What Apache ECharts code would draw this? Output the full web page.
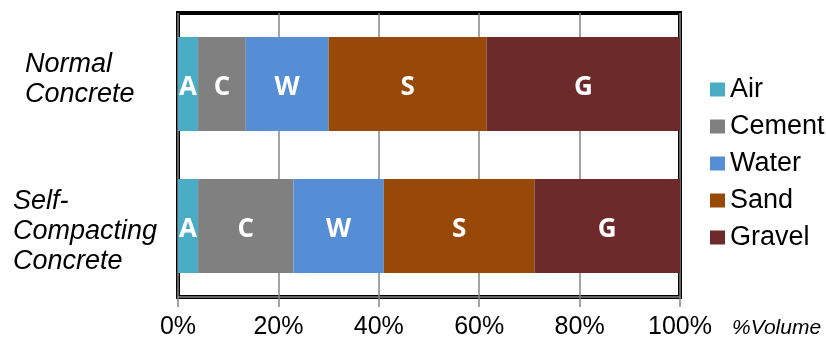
<!DOCTYPE html>
<html>
<head>
<meta charset="utf-8">
<script src="https://cdn.jsdelivr.net/npm/echarts@6/dist/echarts.min.js"></script>
<style>
    html, body {margin: 0; padding: 0; background: #fff;}
    #chart {width: 826px; height: 340px;}
</style>
</head>
<body>
<div id="chart"></div>
<script>
let categories = ['Normal\nConcrete', 'Self-\nCompacting\nConcrete']
let components = ['Air', 'Cement', 'Water', 'Sand', 'Gravel']
let letters = ['A', 'C', 'W', 'S', 'G']
let colors = ['#4bacc6', '#808080', '#558ed5', '#984807', '#6c2a2b']
// % by volume, [normal, self-compacting]
let air = [4, 4]
let cement = [9.5, 19]
let water = [16.5, 18]
let sand = [31.5, 30]
let gravel = [38.5, 29]
let xTicks = [0, 20, 40, 60, 80, 100]

let values = [air, cement, water, sand, gravel]
let series = []
for (let i = 0; i < components.length; i++) {
    series.push({
        name: components[i],
        type: 'bar',
        stack: 'total',
        barWidth: 94,
        data: values[i],
        itemStyle: {color: colors[i]},
        label: {
            show: true,
            position: 'inside',
            formatter: letters[i],
            color: '#fff',
            fontFamily: 'Open Sans',
            fontWeight: 'bold',
            fontSize: 26,
            offset: [0, 4]
        }
    })
}

let chart = echarts.init(document.getElementById('chart'))
let option = {
    animation: false,
    textStyle: {fontFamily: 'Liberation Sans'},
    grid: {
        left: 178,
        right: 146,
        top: 13,
        bottom: 39,
        show: true,
        borderColor: '#000',
        borderWidth: 4
    },
    legend: {
        orient: 'vertical',
        left: 705,
        top: 71,
        icon: 'rect',
        itemWidth: 15,
        itemHeight: 14,
        itemGap: 10,
        data: components,
        textStyle: {fontSize: 27, color: '#000', fontFamily: 'Liberation Sans'}
    },
    xAxis: {
        type: 'value',
        min: xTicks[0],
        max: xTicks[xTicks.length - 1],
        interval: 20,
        name: '%Volume',
        nameLocation: 'end',
        nameGap: 52,
        nameTextStyle: {
            fontSize: 21,
            fontStyle: 'italic',
            color: '#000',
            verticalAlign: 'top',
            padding: [21, 0, 0, 0]
        },
        axisLine: {show: true, lineStyle: {color: '#868686', width: 1.5}},
        axisTick: {show: true, length: 10, lineStyle: {color: '#868686', width: 1.5}},
        splitLine: {show: true, lineStyle: {color: '#868686', width: 1.5}},
        axisLabel: {
            fontSize: 25,
            color: '#000',
            margin: 18,
            formatter: function (v) {
                return v + '%'
            }
        }
    },
    yAxis: {
        type: 'category',
        inverse: true,
        data: categories,
        axisLine: {show: false},
        axisTick: {show: false},
        axisLabel: {
            align: 'left',
            margin: 165,
            formatter: function (v, i) {
                let tag = i === 0 ? 'n' : 's'
                let txt = v.split('\n').map(function (l) {
                    return '{' + tag + '|' + l + '}'
                }).join('\n')
                // nudge the label blocks like in the original
                if (i === 0) txt += '\n{e| }'
                else txt = '{e| }\n' + txt
                return txt
            },
            rich: {
                n: {fontSize: 27, fontStyle: 'italic', color: '#000', lineHeight: 30, padding: [0, 0, 0, 12]},
                s: {fontSize: 27, fontStyle: 'italic', color: '#000', lineHeight: 30},
                e: {fontSize: 2, lineHeight: 10}
            }
        }
    },
    series: series
}
chart.setOption(option)
</script>
</body>
</html>
